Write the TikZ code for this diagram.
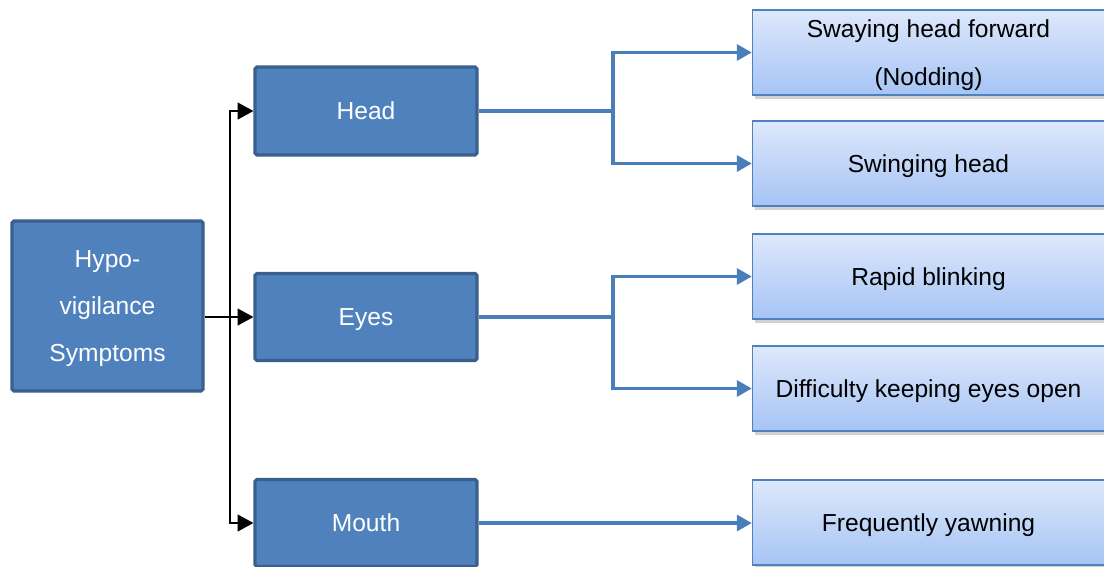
\documentclass[tikz,border=0pt]{standalone}
\usepackage{fontspec}
\setmainfont{Liberation Sans}
\usepackage{tikz}
\usetikzlibrary{arrows.meta,shadows}

\definecolor{darkfill}{HTML}{4F81BD}
\definecolor{darkedge}{HTML}{3B5F8D}
\definecolor{lighttop}{HTML}{DDE8FB}
\definecolor{lightbot}{HTML}{A6C4F5}
\definecolor{lineblue}{HTML}{4A7EBB}

\tikzset{
  partbox/.style={draw=darkedge, line width=1.8pt, fill=darkfill, text=white,
    rounded corners=1pt, align=center, inner sep=0pt, text depth=0pt,
    font=\fontsize{14}{26.5}\selectfont},
  signbox/.style={draw=darkfill, line width=0.8pt, top color=lighttop, bottom color=lightbot,
    minimum width=7.04cm, minimum height=1.7cm, align=center, inner sep=0pt, text depth=0pt,
    font=\fontsize{14}{27}\selectfont,
    drop shadow={shadow xshift=1.5pt, shadow yshift=-2pt, opacity=0.3, fill=black!60}},
  rootlink/.style={draw=black, line width=1.2pt},
  partlink/.style={draw=lineblue, line width=2pt},
  rootarrow/.style={rootlink, -{Triangle[length=9pt,width=9.5pt]}},
  partarrow/.style={partlink, -{Triangle[length=8.5pt,width=9pt]}},
}

\begin{document}
\begin{tikzpicture}[x=0.02cm, y=-0.02cm]
\useasboundingbox (0,0) rectangle (1104,566);

%Root
\node [partbox, minimum width=3.82cm, minimum height=3.4cm] (root) at (107.5,306) {Hypo-\\vigilance\\Symptoms};

%Body parts
\node [partbox, minimum width=4.44cm, minimum height=1.76cm] (head) at (366,111) {Head};
\node [partbox, minimum width=4.44cm, minimum height=1.74cm] (eyes) at (366,317) {Eyes};
\node [partbox, minimum width=4.44cm, minimum height=1.74cm] (mouth) at (366,523) {Mouth};

%Signs
\node [signbox] (sway) at (928.5,52.5) {Swaying head forward\\(Nodding)};
\node [signbox] (swing) at (928.5,163.5) {Swinging head};
\node [signbox] (blink) at (928.5,276.5) {Rapid blinking};
\node [signbox] (open) at (928.5,388.5) {Difficulty keeping eyes open};
\node [signbox] (yawn) at (928.5,522.5) {Frequently yawning};

%Black tree from the root
\coordinate (rj) at (230,317);
\draw [rootarrow] (root.east |- rj) -- (rj) |- (head.west);
\draw [rootarrow] (rj) -- (eyes.west);
\draw [rootarrow] (rj) |- (mouth.west);

%Blue links to the signs
\coordinate (hj) at (613,111);
\coordinate (ej) at (613,317);
\draw [partarrow] (head.east) -- (hj) |- (sway.west);
\draw [partarrow] (hj) |- (swing.west);

\draw [partarrow] (eyes.east) -- (ej) |- (blink.west);
\draw [partarrow] (ej) |- (open.west);

\draw [partarrow] (mouth.east) -- (mouth.east -| yawn.west);

\end{tikzpicture}
\end{document}
